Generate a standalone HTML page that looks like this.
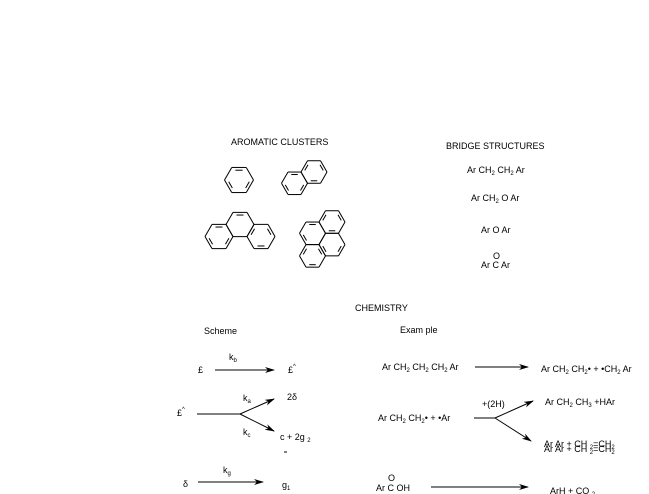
<!DOCTYPE html>
<html><head><style>
html,body{margin:0;padding:0;background:#fff;}
svg{display:block;}
text{font-family:"Liberation Sans",sans-serif;font-size:9px;fill:#000;}
.s{font-size:6px;}
</style></head><body>
<svg id="s" width="649" height="494" viewBox="0 0 649 494" xmlns="http://www.w3.org/2000/svg">
<defs><marker id="a" markerWidth="10" markerHeight="6" refX="9" refY="3" orient="auto" markerUnits="userSpaceOnUse"><path d="M0,0 L10,3 L0,6 L3,3z" fill="#000"/></marker></defs>
<g id="rings" stroke="#000" stroke-width="1" fill="none"></g>
<text x="231" y="145">AROMATIC CLUSTERS</text>
<text x="446" y="149">BRIDGE STRUCTURES</text>
<text x="467" y="173">Ar CH<tspan class="s" dy="2">2</tspan><tspan dy="-2"> CH</tspan><tspan class="s" dy="2">2</tspan><tspan dy="-2"> Ar</tspan></text>
<text x="471" y="201">Ar CH<tspan class="s" dy="2">2</tspan><tspan dy="-2"> O Ar</tspan></text>
<text x="481" y="233">Ar O Ar</text>
<text x="493" y="259">O</text>
<text x="481" y="268">Ar C Ar</text>
<text x="355" y="311">CHEMISTRY</text>
<text x="204" y="334">Scheme</text>
<text x="400" y="333">Exam ple</text>
<g stroke="#000" stroke-width="1" fill="none">
<line x1="215" y1="370" x2="274" y2="370" marker-end="url(#a)"/>
<line x1="197" y1="414" x2="240" y2="414"/>
<line x1="240" y1="414" x2="274" y2="399" marker-end="url(#a)"/>
<line x1="240" y1="414" x2="274" y2="431" marker-end="url(#a)"/>
<line x1="198" y1="482" x2="263" y2="482" marker-end="url(#a)"/>
<line x1="475" y1="367" x2="528" y2="367" marker-end="url(#a)"/>
<line x1="474" y1="418" x2="495" y2="418"/>
<line x1="495" y1="418" x2="533" y2="401" marker-end="url(#a)"/>
<line x1="495" y1="418" x2="531" y2="441" marker-end="url(#a)"/>
<line x1="431" y1="487" x2="528" y2="487" marker-end="url(#a)"/>
</g>
<text x="198" y="373">£</text>
<text x="229" y="360">k<tspan class="s" dy="2">b</tspan></text>
<text x="288" y="373">£<tspan class="s" dy="-5">^</tspan></text>
<text x="177" y="416">£<tspan class="s" dy="-5">^</tspan></text>
<text x="243" y="401">k<tspan class="s" dy="2">a</tspan></text>
<text x="287" y="400">2δ</text>
<text x="243" y="435">k<tspan class="s" dy="2">c</tspan></text>
<text x="280" y="440">c + 2g <tspan class="s" dy="2">2</tspan></text>
<line x1="284" y1="452" x2="287" y2="452" stroke="#000"/>
<text x="183" y="487">δ</text>
<text x="223" y="473">k<tspan class="s" dy="2">g</tspan></text>
<text x="282" y="488">g<tspan class="s" dy="2">1</tspan></text>
<text x="382" y="370">Ar CH<tspan class="s" dy="2">2</tspan><tspan dy="-2"> CH</tspan><tspan class="s" dy="2">2</tspan><tspan dy="-2"> CH</tspan><tspan class="s" dy="2">2</tspan><tspan dy="-2"> Ar</tspan></text>
<text x="541" y="372">Ar CH<tspan class="s" dy="2">2</tspan><tspan dy="-2">  CH</tspan><tspan class="s" dy="2">2</tspan><tspan dy="-2">• + •CH</tspan><tspan class="s" dy="2">2</tspan><tspan dy="-2"> Ar</tspan></text>
<text x="482" y="407">+(2H)</text>
<text x="378" y="421">Ar CH<tspan class="s" dy="2">2</tspan><tspan dy="-2"> CH</tspan><tspan class="s" dy="2">2</tspan><tspan dy="-2">•  + •Ar</tspan></text>
<text x="545" y="405">Ar CH<tspan class="s" dy="2">2</tspan><tspan dy="-2"> CH</tspan><tspan class="s" dy="2">3</tspan><tspan dy="-2"> +HAr</tspan></text>
<text x="544" y="447">Ar Ar + CH <tspan class="s" dy="2">2</tspan><tspan dy="-2">=CH</tspan><tspan class="s" dy="2">2</tspan></text>
<text x="544" y="452">Ar Ar + CH <tspan class="s" dy="2">2</tspan><tspan dy="-2">=CH</tspan><tspan class="s" dy="2">2</tspan></text>
<text x="388" y="481">O</text>
<text x="376" y="491">Ar C OH</text>
<text x="550" y="494">ArH + CO <tspan class="s" dy="2">2</tspan></text>
</svg>
<script>
var g=document.getElementById('rings'),ns='http://www.w3.org/2000/svg';
function L(x1,y1,x2,y2){var l=document.createElementNS(ns,'line');l.setAttribute('x1',x1);l.setAttribute('y1',y1);l.setAttribute('x2',x2);l.setAttribute('y2',y2);g.appendChild(l);}
function hex(cx,cy,r,dbl){var p=[];for(var i=0;i<6;i++){var a=Math.PI/3*i;p.push([cx+r*Math.cos(a),cy+r*Math.sin(a)]);}
for(var i=0;i<6;i++){var A=p[i],B=p[(i+1)%6];L(A[0],A[1],B[0],B[1]);
if(dbl.indexOf(i)>=0){var k=0.78,s=0.18;var ax=cx+(A[0]-cx)*k,ay=cy+(A[1]-cy)*k,bx=cx+(B[0]-cx)*k,by=cy+(B[1]-cy)*k;
L(ax+(bx-ax)*s,ay+(by-ay)*s,bx-(bx-ax)*s,by-(by-ay)*s);}}}
hex(239,180,14.5,[0,2,4]);
hex(314,172,13,[1,3,5]);hex(294.5,183.3,13,[0,2,4]);
hex(219,236.5,14,[0,2,4]);hex(240,224.5,14,[4]);hex(261,236.5,14,[1,3,5]);
hex(332,222,13,[1,3,5]);hex(332,244.6,13,[0,2]);hex(312.5,233.3,13,[2,4]);hex(312.5,255.9,13,[1,3,5]);
</script>
</body></html>
